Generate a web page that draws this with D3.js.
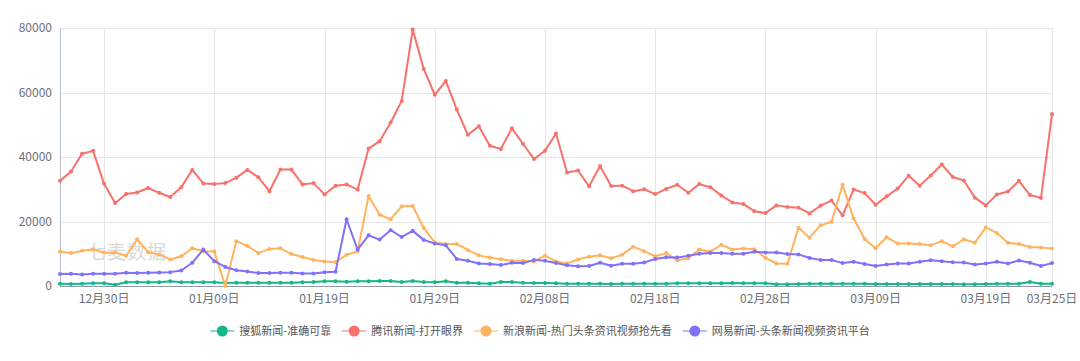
<!DOCTYPE html>
<html>
<head>
<meta charset="utf-8">
<script src="https://cdn.jsdelivr.net/npm/d3@7"></script>
<style>
  body { margin: 0; background: #fff; }
  svg { display: block; font-family: "Noto Sans CJK SC", sans-serif; }
</style>
</head>
<body>
<div id="chart"></div>
<script>
const width = 1080;
const height = 361;

// days from 2019-12-26 to 2020-03-25
const startDay = new Date(2019, 11, 26);
const endDay = new Date(2020, 2, 26);
const days = d3.timeDays(startDay, endDay);
const fmt = d3.timeFormat("%m月%d日");
const categories = days.map(d => fmt(d));

const tickLabels = ["12月30日", "01月09日", "01月19日", "01月29日", "02月08日",
  "02月18日", "02月28日", "03月09日", "03月19日", "03月25日"];
const yTicks = [0, 20000, 40000, 60000, 80000];

const seriesNames = ["搜狐新闻-准确可靠", "腾讯新闻-打开眼界", "新浪新闻-热门头条资讯视频抢先看", "网易新闻-头条新闻视频资讯平台"];
const seriesColors = ["#14b789", "#f8716a", "#ffb35f", "#8071f9"];

const sohu = [720, 620, 720, 830, 830, 410, 1140, 1140, 1140, 1140,
  1450, 1140, 1140, 1140, 1140, 930, 1030, 1030, 1030, 1030,
  1030, 1030, 1140, 1240, 1450, 1450, 1340, 1450, 1450, 1550,
  1550, 1240, 1550, 1240, 1140, 1450, 1030, 1030, 830, 720,
  1240, 1240, 1030, 930, 930, 830, 720, 720, 720, 720,
  620, 720, 720, 720, 720, 720, 830, 830, 830, 830,
  830, 930, 830, 830, 830, 520, 520, 620, 720, 720,
  720, 720, 720, 720, 620, 620, 620, 620, 620, 620,
  620, 620, 520, 520, 620, 720, 720, 720, 1240, 720, 720];

const tencent = [32600, 35500, 41000, 41900, 31700, 25700, 28500, 29000, 30400, 28900,
  27600, 30600, 36000, 31800, 31600, 31900, 33600, 36000, 33700, 29400,
  36100, 36100, 31500, 31900, 28400, 31100, 31500, 29900, 42600, 44900,
  50700, 57400, 79500, 67300, 59300, 63600, 54700, 46900, 49500, 43500,
  42500, 48900, 44100, 39400, 41900, 47300, 35200, 35800, 30900, 37200,
  31000, 31100, 29400, 30000, 28500, 30100, 31400, 28900, 31600, 30600,
  28100, 25900, 25400, 23200, 22600, 25000, 24500, 24300, 22500, 24900,
  26500, 21900, 29900, 28800, 25200, 27800, 30200, 34200, 31100, 34300,
  37700, 33800, 32700, 27400, 25000, 28400, 29300, 32600, 28200, 27300, 53300];

const sina = [10600, 10200, 10900, 11400, 10300, 10400, 9400, 14500, 10500, 9800,
  8200, 9200, 11700, 10800, 10700, 0, 13900, 12400, 10200, 11500,
  11700, 9900, 9000, 8100, 7600, 7400, 9700, 10700, 27900, 22100,
  20700, 24700, 24800, 18000, 13500, 13000, 13000, 11200, 9500, 8800,
  8300, 7800, 7800, 7600, 9400, 7600, 7000, 8200, 9100, 9500,
  8600, 9700, 12200, 10800, 9200, 10200, 8000, 8600, 11300, 10600,
  12800, 11300, 11600, 11400, 8700, 7000, 6900, 18100, 15000, 18800,
  19900, 31400, 20900, 14600, 11700, 15100, 13200, 13200, 13000, 12600,
  13900, 12300, 14500, 13400, 18200, 16400, 13400, 13000, 12100, 11900, 11600];

const netease = [3700, 3800, 3600, 3800, 3800, 3800, 4100, 4000, 4100, 4200,
  4300, 4800, 7200, 11300, 7700, 5900, 4900, 4500, 4000, 4000,
  4100, 4100, 3900, 3900, 4300, 4400, 20700, 11300, 15700, 14400,
  17300, 15200, 17100, 14300, 13200, 12600, 8400, 7800, 7000, 6800,
  6500, 7200, 7100, 8100, 7800, 7100, 6400, 6100, 6200, 7200,
  6300, 6900, 6900, 7300, 8400, 8900, 8800, 9400, 10000, 10200,
  10200, 10000, 10000, 10600, 10400, 10400, 9900, 9800, 8700, 8100,
  8100, 7100, 7500, 6800, 6200, 6700, 7000, 7000, 7500, 8000,
  7700, 7400, 7300, 6700, 7000, 7500, 7000, 7900, 7200, 6200, 7100];

const seriesValues = [sohu, tencent, sina, netease];

const margin = { top: 28, right: 28, bottom: 75, left: 60 };

const x = d3.scalePoint()
  .domain(categories)
  .range([margin.left, width - margin.right]);

const y = d3.scaleLinear()
  .domain([0, 80000])
  .range([height - margin.bottom, margin.top]);

const svg = d3.select("#chart")
  .append("svg")
  .attr("width", width)
  .attr("height", height);

// horizontal grid
svg.append("g")
  .selectAll("line")
  .data(yTicks)
  .join("line")
  .attr("x1", margin.left)
  .attr("x2", width - margin.right)
  .attr("y1", d => Math.round(y(d)) + 0.5)
  .attr("y2", d => Math.round(y(d)) + 0.5)
  .attr("stroke", "#e6e6e6")
  .attr("stroke-width", 1);

// vertical grid at labelled days
const tickCats = categories.filter(c => tickLabels.includes(c));
svg.append("g")
  .selectAll("line")
  .data(tickCats)
  .join("line")
  .attr("x1", d => Math.round(x(d)) + 0.5)
  .attr("x2", d => Math.round(x(d)) + 0.5)
  .attr("y1", margin.top)
  .attr("y2", height - margin.bottom)
  .attr("stroke", "#e6e6e6")
  .attr("stroke-width", 1);

// axes lines
svg.append("line")
  .attr("x1", margin.left + 0.5).attr("x2", margin.left + 0.5)
  .attr("y1", margin.top).attr("y2", height - margin.bottom)
  .attr("stroke", "#b8c0cf");
svg.append("line")
  .attr("x1", margin.left).attr("x2", width - margin.right)
  .attr("y1", Math.round(y(0)) + 0.5).attr("y2", Math.round(y(0)) + 0.5)
  .attr("stroke", "#8f98a8");

// y labels
svg.append("g")
  .selectAll("text")
  .data(yTicks)
  .join("text")
  .attr("x", margin.left - 8)
  .attr("y", d => y(d))
  .attr("dy", "0.35em")
  .attr("text-anchor", "end")
  .attr("fill", "#6e7079")
  .style("font-size", "12px")
  .text(d => d);

// x labels
svg.append("g")
  .selectAll("text")
  .data(tickCats)
  .join("text")
  .attr("x", d => x(d))
  .attr("y", y(0) + 17)
  .attr("text-anchor", "middle")
  .attr("fill", "#6e7079")
  .style("font-size", "12px")
  .text(d => d);

// watermark
svg.append("text")
  .attr("x", 87)
  .attr("y", 259)
  .attr("fill", "#d9d9d9")
  .style("font-size", "19px")
  .style("letter-spacing", "1px")
  .text("七麦数据");

// series
const line = d3.line()
  .x((d, i) => x(categories[i]))
  .y(d => y(d));

seriesValues.forEach((vals, si) => {
  const g = svg.append("g");
  g.append("path")
    .datum(vals)
    .attr("fill", "none")
    .attr("stroke", seriesColors[si])
    .attr("stroke-width", 2)
    .attr("stroke-linejoin", "round")
    .attr("d", line);
  g.selectAll("circle")
    .data(vals)
    .join("circle")
    .attr("cx", (d, i) => x(categories[i]))
    .attr("cy", d => y(d))
    .attr("r", 2)
    .attr("fill", seriesColors[si]);
});

// legend
const legend = svg.append("g");
const legendY = 331;
const itemGap = 11;
let lx = 0;
seriesNames.forEach((name, i) => {
  const item = legend.append("g").attr("transform", `translate(${lx},0)`);
  item.append("line")
    .attr("x1", 0).attr("x2", 24)
    .attr("y1", legendY).attr("y2", legendY)
    .attr("stroke", seriesColors[i])
    .attr("stroke-width", 2)
    .attr("opacity", 0.5);
  item.append("circle")
    .attr("cx", 12).attr("cy", legendY)
    .attr("r", 5.5)
    .attr("fill", seriesColors[i]);
  const t = item.append("text")
    .attr("x", 29)
    .attr("y", legendY)
    .attr("dy", "0.35em")
    .attr("fill", "#555")
    .style("font-size", "11px")
    .text(name);
  const w = t.node().getComputedTextLength();
  lx += 29 + w + itemGap;
});
const totalW = lx - itemGap;
legend.attr("transform", `translate(${(width - totalW) / 2},0)`);
</script>
</body>
</html>
